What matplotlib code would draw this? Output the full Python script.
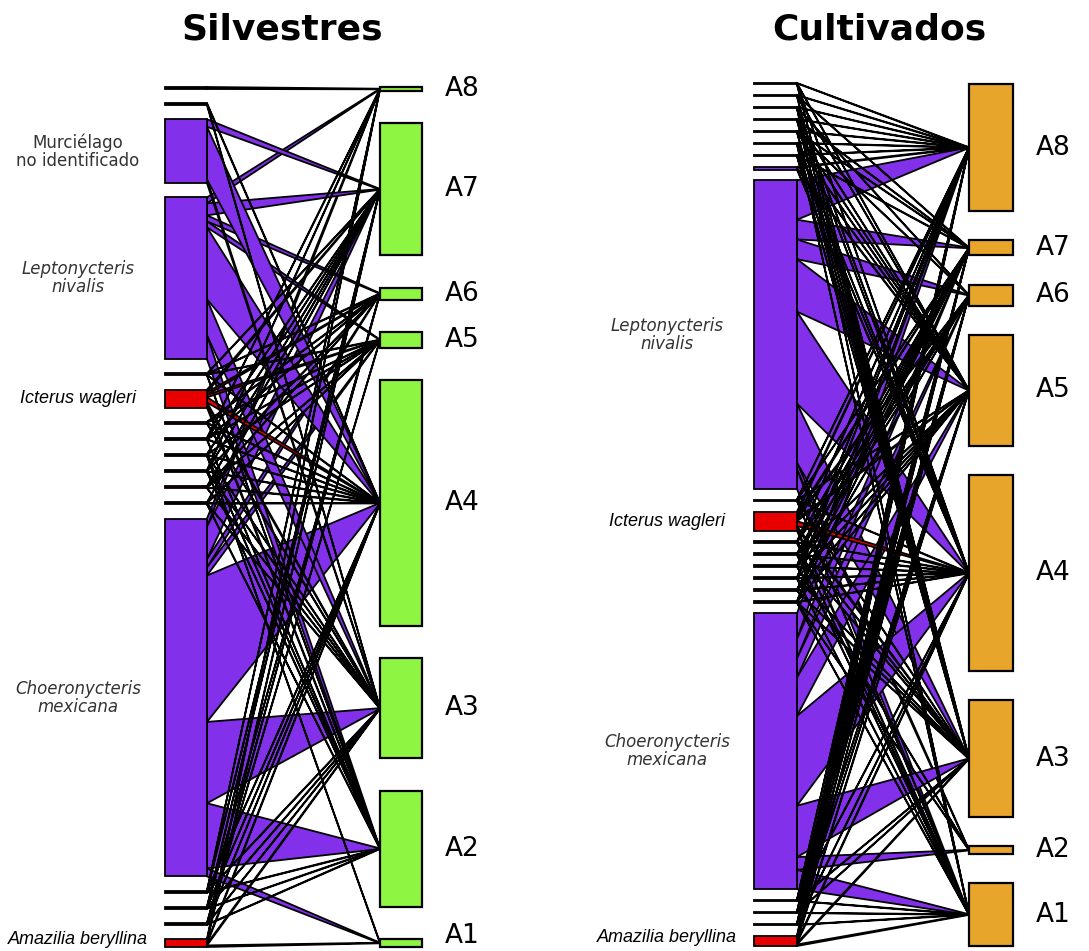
import matplotlib
matplotlib.use("Agg")
import matplotlib.pyplot as plt
from matplotlib.patches import Rectangle, Polygon
import numpy as np

# ---------------------------------------------------------------------------
# Datos
# ---------------------------------------------------------------------------
sitios = ["A8", "A7", "A6", "A5", "A4", "A3", "A2", "A1"]

# Silvestres: especies (de arriba a abajo), grupo y abundancia
sil_especies = ["", "", "Murciélago\nno identificado", "Leptonycteris\nnivalis", "",
                "Icterus wagleri", "", "", "", "", "", "", "Choeronycteris\nmexicana",
                "", "", "", "Amazilia beryllina"]
sil_grupo = ["n", "n", "m", "m", "d", "a", "d", "n", "n", "n", "d", "n", "m",
             "n", "n", "n", "a"]
sil_abund = [1, 1, 32, 81, 1, 9, 1, 1, 1, 1, 1, 1, 179, 1, 1, 1, 4]
sil_sitio_abund = [2, 66, 6, 8, 123, 50, 58, 4]
sil_links = [
    [1, 0, 0, 0, 0, 0, 0, 0],
    [0, 0, 0, 0, 1, 1, 0, 0],
    [0, 2, 0, 0, 14, 1, 0, 0],
    [1, 2, 1, 1, 12, 6, 4, 0],
    [0, 1, 1, 1, 1, 0, 1, 0],
    [0, 1, 1, 1, 2, 1, 1, 0],
    [0, 0, 1, 1, 1, 1, 0, 0],
    [1, 1, 1, 1, 1, 0, 1, 0],
    [0, 1, 0, 1, 1, 1, 1, 1],
    [1, 1, 1, 0, 1, 1, 1, 0],
    [0, 1, 1, 1, 1, 1, 0, 0],
    [0, 1, 0, 1, 1, 1, 1, 0],
    [1, 4, 1, 1, 18, 10, 8, 1],
    [1, 1, 0, 0, 1, 1, 1, 0],
    [0, 1, 1, 0, 1, 1, 1, 0],
    [0, 0, 1, 1, 1, 1, 1, 0],
    [1, 1, 0, 0, 1, 1, 0, 1],
]

# Cultivados
cul_especies = ["", "", "", "", "", "", "", "", "Leptonycteris\nnivalis", "",
                "Icterus wagleri", "", "", "", "", "", "", "Choeronycteris\nmexicana",
                "", "", "", "Amazilia beryllina"]
cul_grupo = ["n", "n", "n", "n", "n", "n", "n", "m", "m", "n", "a", "n", "n", "n",
             "n", "d", "n", "m", "n", "n", "n", "a"]
cul_abund = [1, 1, 1, 1, 1, 1, 1, 2, 206, 1, 13, 1, 1, 1, 1, 1, 1, 184, 1, 1, 1, 7]
cul_sitio_abund = [85, 10, 14, 74, 131, 78, 5, 42]
cul_links = [
    [1, 0, 0, 1, 1, 1, 0, 0],
    [1, 1, 0, 1, 0, 1, 0, 0],
    [1, 0, 1, 0, 1, 1, 0, 1],
    [1, 1, 0, 1, 1, 1, 0, 0],
    [1, 1, 1, 1, 0, 1, 0, 0],
    [1, 0, 0, 1, 1, 1, 0, 1],
    [1, 1, 0, 1, 1, 1, 0, 0],
    [1, 0, 0, 1, 1, 0, 0, 0],
    [6, 3, 3, 8, 14, 9, 1, 3],
    [1, 1, 0, 1, 1, 1, 0, 1],
    [1, 1, 1, 1, 2, 1, 0, 1],
    [1, 1, 1, 0, 1, 1, 0, 1],
    [0, 1, 1, 1, 1, 1, 0, 1],
    [1, 1, 1, 1, 1, 0, 1, 0],
    [1, 1, 0, 1, 1, 1, 0, 1],
    [0, 1, 1, 1, 1, 1, 0, 0],
    [1, 1, 0, 1, 1, 1, 1, 1],
    [4, 3, 3, 6, 14, 8, 2, 3],
    [1, 1, 1, 0, 1, 1, 0, 1],
    [1, 1, 1, 1, 0, 1, 0, 1],
    [1, 1, 1, 1, 1, 0, 0, 1],
    [1, 1, 1, 1, 1, 1, 0, 1],
]

# ---------------------------------------------------------------------------
# Estilo
# ---------------------------------------------------------------------------
COLOR_GRUPO = {"n": "black", "m": "#8230EA", "a": "#E80000", "d": "#8B1010"}
LW = 1.3


def layout(values, top, bottom, space):
    """Posiciones verticales tipo plotweb: barras proporcionales + huecos iguales."""
    v = np.asarray(values, float)
    L = bottom - top
    gap = L * space / (len(v) - 1)
    h = v / v.sum() * L * (1 - space)
    y0 = top + np.concatenate([[0], np.cumsum(h[:-1] + gap)])
    return y0, h


def draw_panel(ax, especies, grupo, abund, sitio_abund, links, color_sitio,
               x, top, bottom, space_low, space_high, label_x, title, title_x):
    xl0, xl1, xr0, xr1 = x
    y0, h = layout(abund, top[0], bottom[0], space_low)
    s0, sh = layout(sitio_abund, top[1], bottom[1], space_high)
    sc = s0 + sh / 2
    links = np.asarray(links, float)

    # enlaces: primero las especies grandes, luego las finas encima
    order = np.argsort(-np.asarray(abund), kind="stable")
    for i in order:
        w = links[i]
        frac = np.concatenate([[0], np.cumsum(w)]) / w.sum()
        for j in range(len(sitios)):
            if w[j] == 0:
                continue
            a = y0[i] + frac[j] * h[i]
            b = y0[i] + frac[j + 1] * h[i]
            poly = Polygon([(xl1, a), (xl1, b), (xr0, sc[j] + 0.3), (xr0, sc[j] - 0.3)],
                           closed=True, facecolor=COLOR_GRUPO[grupo[i]],
                           edgecolor="black", lw=LW, zorder=2)
            ax.add_patch(poly)

    # barras de especies
    for i in range(len(abund)):
        ax.add_patch(Rectangle((xl0, y0[i]), xl1 - xl0, h[i],
                               facecolor=COLOR_GRUPO[grupo[i]], edgecolor="black",
                               lw=LW, zorder=3))
        name = especies[i]
        if name:
            yc = min(y0[i] + h[i] / 2, bottom[0] - 8)
            if grupo[i] == "a":
                ax.text(label_x, yc, name, ha="center", va="center", fontsize=13,
                        style="italic", color="black",
                        family=["Liberation Sans", "DejaVu Sans"])
            elif name.startswith("Murci"):
                ax.text(label_x, yc, name, ha="center", va="center", fontsize=12,
                        color="#333333", linespacing=1.0)
            else:
                ax.text(label_x, yc, name, ha="center", va="center", fontsize=12,
                        style="italic", color="#333333", linespacing=1.0)

    # cajas de sitios
    for j, s in enumerate(sitios):
        ax.add_patch(Rectangle((xr0, s0[j]), xr1 - xr0, sh[j],
                               facecolor=color_sitio, edgecolor="black", lw=LW + 0.3,
                               zorder=3))
        ax.text(xr1 + 23, min(sc[j], bottom[1] - 11), s, ha="left", va="center",
                fontsize=19)

    ax.text(title_x, 30, title, ha="center", va="center", fontsize=26,
            fontweight="bold")


fig = plt.figure(figsize=(10.89, 9.51), dpi=100)
ax = fig.add_axes([0, 0, 1, 1])
ax.set_xlim(0, 1089)
ax.set_ylim(951, 0)
ax.axis("off")

draw_panel(ax, sil_especies, sil_grupo, sil_abund, sil_sitio_abund, sil_links,
           "#8EF542", (165, 207, 380, 422), (87, 87), (947, 947), 0.263, 0.263,
           78, "Silvestres", 282)
draw_panel(ax, cul_especies, cul_grupo, cul_abund, cul_sitio_abund, cul_links,
           "#E8A52B", (754, 797, 969, 1013), (83, 84), (946, 946), 0.255, 0.238,
           667, "Cultivados", 879)

fig.savefig("out.png", dpi=100)
